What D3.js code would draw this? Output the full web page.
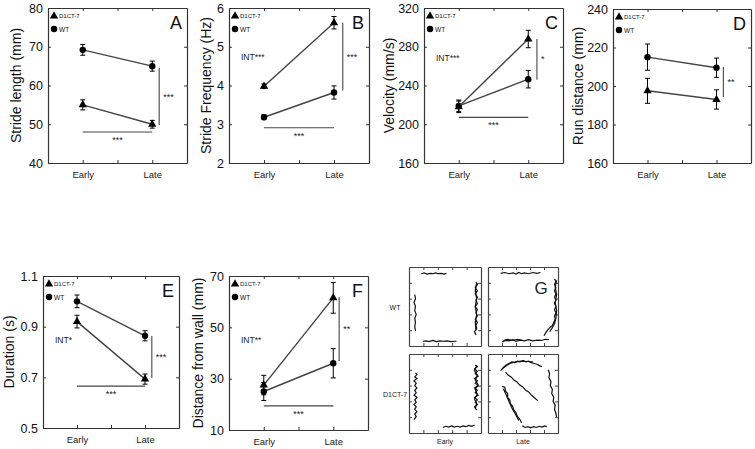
<!DOCTYPE html>
<html><head><meta charset="utf-8">
<script src="https://cdn.jsdelivr.net/npm/d3@7"></script>
<style>body{margin:0;background:#fff}svg{display:block}text{font-family:"Liberation Sans",Arial,sans-serif}</style>
</head><body>
<script>
// ---------- DATA ----------
const categories = ["Early", "Late"];
const groups = ["D1CT-7", "WT"];
const panelLetters = ["A", "B", "C", "D", "E", "F"];
const yTitles = ["Stride length (mm)", "Stride Frequency (Hz)", "Velocity (mm/s)", "Run distance (mm)", "Duration (s)", "Distance from wall (mm)"];
const yDomains = [[40, 80], [2, 6], [160, 320], [160, 240], [0.5, 1.1], [10, 70]];
const yTicks = [[40, 50, 60, 70, 80], [2, 3, 4, 5, 6], [160, 200, 240, 280, 320], [160, 180, 200, 220, 240], [0.5, 0.7, 0.9, 1.1], [10, 30, 50, 70]];
const d1Means = [[55, 50], [3.98, 5.62], [218, 288], [197.5, 193], [0.92, 0.693], [27.5, 61.5]];
const d1Errs = [[1.3, 1.0], [0.06, 0.16], [6, 9], [6.5, 5], [0.025, 0.02], [3.8, 6]];
const wtMeans = [[69.2, 65], [3.18, 3.82], [219, 246.5], [215, 209.5], [1.0, 0.864], [25, 36]];
const wtErrs = [[1.4, 1.3], [0.06, 0.17], [6, 9], [6.8, 5], [0.025, 0.02], [3.5, 5.7]];
const intLabels = [null, "INT***", "INT***", null, "INT*", "INT**"];
const hSigValue = [48, 2.91, 207, null, 0.665, 19.4];
const hSigLabel = ["***", "***", "***", null, "***", "***"];
const vSigFrom = [49.8, 3.87, 246, 194.3, 0.697, 36.9];
const vSigTo = [64.5, 5.62, 288, 209.9, 0.863, 61.8];
const vSigLabel = ["***", "***", "*", "**", "***", "**"];

// Panel G: open-field trajectories (fraction of arena, y downward)
const gRowLabels = ["WT", "D1CT-7"];
const gColLabels = ["Early", "Late"];
const trajWTEarly = [
  [[0.17,0.085],[0.21,0.075],[0.25,0.09],[0.29,0.08],[0.33,0.085],[0.37,0.075],[0.41,0.085],[0.45,0.08],[0.49,0.09],[0.52,0.08]],
  [[0.08,0.35],[0.09,0.40],[0.07,0.45],[0.09,0.50],[0.08,0.55],[0.10,0.60],[0.08,0.65],[0.09,0.70],[0.08,0.75],[0.09,0.81]],
  [[0.93,0.19],[0.95,0.22],[0.92,0.26],[0.95,0.30],[0.92,0.34],[0.95,0.38],[0.93,0.42],[0.95,0.46],[0.92,0.50],[0.95,0.54],[0.93,0.58],[0.95,0.62],[0.92,0.66],[0.95,0.70],[0.93,0.74],[0.94,0.78],[0.91,0.82],[0.93,0.86]],
  [[0.94,0.20],[0.92,0.30],[0.94,0.40],[0.92,0.50],[0.94,0.60],[0.92,0.70],[0.93,0.80]],
  [[0.19,0.94],[0.24,0.935],[0.28,0.945],[0.33,0.93],[0.38,0.945],[0.43,0.935],[0.48,0.94],[0.53,0.935],[0.58,0.945],[0.63,0.94],[0.66,0.94]]
];
const trajWTLate = [
  [[0.18,0.08],[0.24,0.07],[0.30,0.085],[0.36,0.075],[0.40,0.09],[0.44,0.07],[0.48,0.085],[0.52,0.075],[0.58,0.085],[0.64,0.07],[0.70,0.08],[0.75,0.07]],
  [[0.95,0.15],[0.97,0.18],[0.95,0.22],[0.97,0.26],[0.95,0.30],[0.97,0.34],[0.95,0.38],[0.97,0.42],[0.95,0.46],[0.97,0.50],[0.95,0.54],[0.97,0.58],[0.95,0.62],[0.96,0.66],[0.94,0.70],[0.92,0.74],[0.88,0.77],[0.85,0.80],[0.82,0.84],[0.80,0.87]],
  [[0.98,0.17],[0.96,0.25],[0.98,0.35],[0.96,0.45],[0.98,0.55],[0.97,0.65],[0.95,0.72],[0.91,0.78],[0.88,0.82]],
  [[0.20,0.95],[0.25,0.93],[0.30,0.935],[0.35,0.92],[0.40,0.94],[0.46,0.925],[0.52,0.935],[0.58,0.92],[0.64,0.935],[0.70,0.925],[0.76,0.93],[0.82,0.915],[0.87,0.92]],
  [[0.22,0.93],[0.28,0.915],[0.34,0.93],[0.42,0.915],[0.50,0.93]]
];
const trajD1Early = [
  [[0.09,0.24],[0.11,0.26],[0.08,0.29],[0.11,0.31],[0.07,0.34],[0.10,0.37],[0.08,0.40],[0.11,0.43],[0.08,0.46],[0.10,0.49],[0.07,0.52],[0.11,0.55],[0.08,0.58],[0.10,0.61],[0.07,0.64],[0.10,0.67],[0.08,0.70],[0.11,0.73],[0.08,0.76],[0.10,0.79],[0.07,0.83]],
  [[0.92,0.14],[0.95,0.16],[0.91,0.19],[0.95,0.22],[0.92,0.25],[0.96,0.28],[0.91,0.31],[0.95,0.34],[0.92,0.37],[0.96,0.40],[0.91,0.43],[0.95,0.46],[0.92,0.49],[0.96,0.52],[0.91,0.55],[0.95,0.58],[0.92,0.61],[0.95,0.64],[0.91,0.67],[0.94,0.71]],
  [[0.94,0.15],[0.91,0.21],[0.95,0.27],[0.92,0.33],[0.96,0.39],[0.92,0.45],[0.95,0.51],[0.91,0.57],[0.94,0.63],[0.92,0.69]],
  [[0.47,0.93],[0.51,0.915],[0.55,0.925],[0.59,0.91],[0.63,0.925],[0.67,0.915],[0.71,0.925],[0.75,0.91],[0.79,0.92],[0.83,0.905],[0.87,0.915],[0.91,0.90]]
];
const trajD1Late = [
  [[0.18,0.21],[0.22,0.17],[0.26,0.14],[0.30,0.12],[0.34,0.10],[0.38,0.11],[0.42,0.09],[0.46,0.10],[0.50,0.08],[0.54,0.10],[0.58,0.09],[0.62,0.11],[0.66,0.12],[0.70,0.13],[0.74,0.15],[0.77,0.16]],
  [[0.20,0.19],[0.26,0.15],[0.32,0.115],[0.40,0.10],[0.48,0.09],[0.56,0.095],[0.64,0.10]],
  [[0.86,0.20],[0.88,0.25],[0.87,0.30],[0.90,0.35],[0.89,0.40],[0.92,0.45],[0.91,0.50],[0.94,0.55],[0.93,0.60],[0.96,0.65],[0.95,0.70],[0.97,0.75],[0.98,0.80]],
  [[0.25,0.23],[0.29,0.27],[0.33,0.29],[0.37,0.33],[0.41,0.35],[0.45,0.39],[0.50,0.42],[0.54,0.46],[0.58,0.48],[0.62,0.52],[0.66,0.55],[0.71,0.59]],
  [[0.20,0.41],[0.24,0.42],[0.25,0.47],[0.28,0.50],[0.28,0.55],[0.31,0.58],[0.32,0.63],[0.35,0.66],[0.37,0.71],[0.40,0.74],[0.42,0.79],[0.45,0.82],[0.48,0.87]],
  [[0.22,0.44],[0.26,0.52],[0.30,0.60],[0.34,0.68],[0.39,0.76],[0.44,0.84]],
  [[0.49,0.91],[0.53,0.93],[0.57,0.92],[0.61,0.935],[0.65,0.92],[0.69,0.93],[0.73,0.915],[0.77,0.925],[0.81,0.91],[0.84,0.92]]
];
const trajectories = [[trajWTEarly, trajWTLate], [trajD1Early, trajD1Late]];

// ---------- LAYOUT ----------
const W = 755, H = 449;
const boxes = [
  {l: 48, r: 187, t: 8, b: 163, titleX: 16, intDy: 0},
  {l: 229, r: 369, t: 8, b: 163, titleX: 206, intDy: 49},
  {l: 424, r: 563, t: 8, b: 163, titleX: 389, intDy: 50},
  {l: 613, r: 751, t: 9, b: 163, titleX: 578, intDy: 0},
  {l: 43, r: 179, t: 276, b: 428, titleX: 9, intDy: 64},
  {l: 229, r: 368, t: 276, b: 430, titleX: 198, intDy: 64}
];
const vSigX = [3.2, 3.25, 3.25, 3.2, 3.2, 3.17];
const lineCol = "#444", frameCol = "#333";

const svg = d3.select("body").append("svg").attr("width", W).attr("height", H);

const triangle = d3.symbol(d3.symbolTriangle, 30);

panelLetters.forEach((letter, i) => {
  const bx = boxes[i];
  const x = d3.scaleLinear([0, 4], [bx.l, bx.r]);
  const y = d3.scaleLinear(yDomains[i], [bx.b, bx.t]);
  const g = svg.append("g");
  const catX = d => categories.indexOf(d) * 2 + 1;
  const fmt = i === 4 ? d3.format(".1f") : d3.format("d");

  const styleAxis = sel => {
    sel.selectAll("path").attr("stroke", frameCol).attr("stroke-width", 1.2);
    sel.selectAll("line").attr("stroke", frameCol).attr("stroke-width", 1);
  };
  g.append("g").attr("transform", `translate(${bx.l},0)`)
    .call(d3.axisLeft(y).tickValues(yTicks[i]).tickFormat(fmt).tickSizeInner(-3).tickSizeOuter(0).tickPadding(5))
    .call(styleAxis)
    .call(s => s.selectAll("text").attr("font-size", 12.5).attr("fill", "#111").attr("font-family", "Liberation Sans, Arial, sans-serif"));
  g.append("g").attr("transform", `translate(${bx.r},0)`)
    .call(d3.axisRight(y).tickValues(yTicks[i]).tickFormat("").tickSizeInner(-3).tickSizeOuter(0))
    .call(styleAxis);
  g.append("g").attr("transform", `translate(0,${bx.b})`)
    .call(d3.axisBottom(x).tickValues([1, 2, 3]).tickFormat(v => v === 1 ? categories[0] : v === 3 ? categories[1] : "").tickSizeInner(-3).tickSizeOuter(0).tickPadding(8))
    .call(styleAxis)
    .call(s => s.selectAll("text").attr("font-size", 9.5).attr("fill", "#222").attr("font-family", "Liberation Sans, Arial, sans-serif"));
  g.append("g").attr("transform", `translate(0,${bx.t})`)
    .call(d3.axisTop(x).tickValues([1, 2, 3]).tickFormat("").tickSizeInner(-3).tickSizeOuter(0))
    .call(styleAxis);

  // y title
  g.append("text").attr("transform", `translate(${bx.titleX},${(bx.t + bx.b) / 2}) rotate(-90)`)
    .attr("text-anchor", "middle").attr("dominant-baseline", "central")
    .attr("font-size", 14).attr("fill", "#111").text(yTitles[i]);

  // panel letter
  g.append("text").attr("x", bx.r - 5).attr("y", bx.t + 21).attr("text-anchor", "end")
    .attr("font-family", "Open Sans, Liberation Sans, sans-serif")
    .attr("font-size", 18).attr("fill", "#111").text(letter);

  // legend
  g.append("path").attr("d", triangle).attr("transform", `translate(${bx.l + 6},${bx.t + 8})`).attr("fill", "#000");
  g.append("text").attr("x", bx.l + 11).attr("y", bx.t + 8).attr("dominant-baseline", "central")
    .attr("font-size", 6).attr("fill", "#111").text(groups[0]);
  g.append("circle").attr("cx", bx.l + 6).attr("cy", bx.t + 21).attr("r", 3.2).attr("fill", "#000");
  g.append("text").attr("x", bx.l + 11).attr("y", bx.t + 21).attr("dominant-baseline", "central")
    .attr("font-size", 6.5).attr("fill", "#111").text(groups[1]);

  // INT label
  if (intLabels[i]) {
    g.append("text").attr("x", bx.l + 12).attr("y", bx.t + bx.intDy).attr("dominant-baseline", "central")
      .attr("font-size", 8.5).attr("fill", "#222").text(intLabels[i]);
  }

  // significance
  if (hSigValue[i] !== null) {
    g.append("line").attr("x1", x(1)).attr("x2", x(3)).attr("y1", y(hSigValue[i])).attr("y2", y(hSigValue[i]))
      .attr("stroke", "#444").attr("stroke-width", 1.2);
    g.append("text").attr("x", x(2)).attr("y", y(hSigValue[i]) + 8).attr("text-anchor", "middle").attr("dominant-baseline", "central")
      .attr("font-size", 9).attr("fill", "#222").text(hSigLabel[i]);
  }
  g.append("line").attr("x1", x(vSigX[i])).attr("x2", x(vSigX[i])).attr("y1", y(vSigFrom[i])).attr("y2", y(vSigTo[i]))
    .attr("stroke", "#555").attr("stroke-width", 1.2);
  g.append("text").attr("x", x(vSigX[i]) + 4).attr("y", (y(vSigFrom[i]) + y(vSigTo[i])) / 2)
    .attr("dominant-baseline", "central").attr("font-size", 9).attr("fill", "#222").text(vSigLabel[i]);

  // series
  const series = [
    {means: wtMeans[i], errs: wtErrs[i], shape: "circle"},
    {means: d1Means[i], errs: d1Errs[i], shape: "triangle"}
  ];
  series.forEach(s => {
    const pts = categories.map((c, k) => ({cx: x(catX(c)), v: s.means[k], e: s.errs[k]}));
    g.append("path").datum(pts).attr("fill", "none").attr("stroke", lineCol).attr("stroke-width", 1.4)
      .attr("d", d3.line().x(d => d.cx).y(d => y(d.v)));
    pts.forEach(p => {
      g.append("line").attr("x1", p.cx).attr("x2", p.cx).attr("y1", y(p.v - p.e)).attr("y2", y(p.v + p.e))
        .attr("stroke", "#000").attr("stroke-width", 1);
      [p.v - p.e, p.v + p.e].forEach(v => g.append("line").attr("x1", p.cx - 2.5).attr("x2", p.cx + 2.5)
        .attr("y1", y(v)).attr("y2", y(v)).attr("stroke", "#000").attr("stroke-width", 1));
      if (s.shape === "circle") {
        g.append("circle").attr("cx", p.cx).attr("cy", y(p.v)).attr("r", 3.2).attr("fill", "#000");
      } else {
        g.append("path").attr("d", triangle).attr("transform", `translate(${p.cx},${y(p.v)})`).attr("fill", "#000");
      }
    });
  });
});

// ---------- PANEL G ----------
const gCols = [{l: 409, r: 481}, {l: 488, r: 558}];
const gRows = [{t: 267, b: 346}, {t: 354, b: 433}];
const gg = svg.append("g");
gRows.forEach((row, ri) => {
  gCols.forEach((col, ci) => {
    const xs = d3.scaleLinear([0, 1], [col.l, col.r]);
    const ys = d3.scaleLinear([0, 1], [row.t, row.b]);
    const cell = gg.append("g");
    const tv = [0.2, 0.4, 0.6, 0.8];
    const st = sel => { sel.selectAll("path").attr("stroke", "#444").attr("stroke-width", 1.2); sel.selectAll("line").attr("stroke", "#444"); };
    cell.append("g").attr("transform", `translate(0,${row.t})`).call(d3.axisTop(xs).tickValues(tv).tickFormat("").tickSizeInner(-3).tickSizeOuter(0)).call(st);
    cell.append("g").attr("transform", `translate(0,${row.b})`).call(d3.axisBottom(xs).tickValues(tv).tickFormat("").tickSizeInner(-3).tickSizeOuter(0)).call(st);
    cell.append("g").attr("transform", `translate(${col.l},0)`).call(d3.axisLeft(ys).tickValues(tv).tickFormat("").tickSizeInner(-3).tickSizeOuter(0)).call(st);
    cell.append("g").attr("transform", `translate(${col.r},0)`).call(d3.axisRight(ys).tickValues(tv).tickFormat("").tickSizeInner(-3).tickSizeOuter(0)).call(st);
    trajectories[ri][ci].forEach(path => {
      cell.append("path").datum(path).attr("fill", "none").attr("stroke", "#111").attr("stroke-width", 1.2)
        .attr("d", d3.line().x(d => xs(d[0])).y(d => ys(d[1])));
    });
  });
  gg.append("text").attr("x", 395).attr("y", (row.t + row.b) / 2 + 1).attr("text-anchor", "middle").attr("dominant-baseline", "central")
    .attr("font-size", 7).attr("fill", "#222").text(gRowLabels[ri]);
});
gCols.forEach((col, ci) => {
  gg.append("text").attr("x", (col.l + col.r) / 2).attr("y", 441).attr("text-anchor", "middle").attr("dominant-baseline", "central")
    .attr("font-size", 7).attr("fill", "#222").text(gColLabels[ci]);
});
gg.append("text").attr("x", 541).attr("y", 294).attr("text-anchor", "middle")
  .attr("font-family", "Open Sans, Liberation Sans, sans-serif").attr("font-size", 17).attr("fill", "#222").text("G");
</script>
</body></html>
